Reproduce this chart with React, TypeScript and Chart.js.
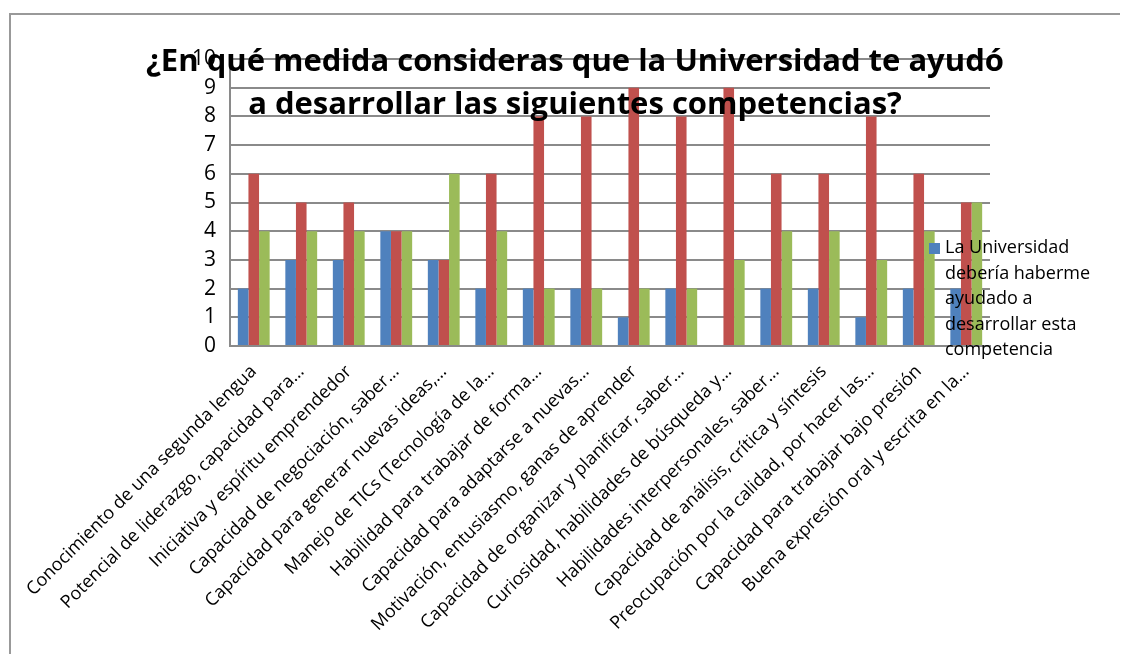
import React, { useEffect, useRef } from "react";
import { Chart, registerables } from "chart.js";

Chart.register(...registerables);

const categories: string[] = [
  "Conocimiento de una segunda lengua",
  "Potencial de liderazgo, capacidad para…",
  "Iniciativa y espíritu emprendedor",
  "Capacidad de negociación, saber…",
  "Capacidad para generar nuevas ideas,…",
  "Manejo de TICs (Tecnología de la…",
  "Habilidad para trabajar de forma…",
  "Capacidad para adaptarse a nuevas…",
  "Motivación, entusiasmo, ganas de aprender",
  "Capacidad de organizar y planificar, saber…",
  "Curiosidad, habilidades de búsqueda y…",
  "Habilidades interpersonales, saber…",
  "Capacidad de análisis, crítica y síntesis",
  "Preocupación por la calidad, por hacer las…",
  "Capacidad para trabajar bajo presión",
  "Buena expresión oral y escrita en la…",
];

const seriesBlue: number[] = [2, 3, 3, 4, 3, 2, 2, 2, 1, 2, 0, 2, 2, 1, 2, 2];
const seriesRed: number[] = [6, 5, 5, 4, 3, 6, 8, 8, 9, 8, 9, 6, 6, 8, 6, 5];
const seriesGreen: number[] = [4, 4, 4, 4, 6, 4, 2, 2, 2, 2, 3, 4, 4, 3, 4, 5];

const titleLines: string[] = [
  "¿En qué medida consideras que la Universidad te ayudó",
  "a desarrollar las siguientes competencias?",
];

const legendLines: string[] = [
  "La Universidad",
  "debería haberme",
  "ayudado a",
  "desarrollar esta",
  "competencia",
];

const BLUE = "#4F81BD";
const RED = "#C0504D";
const GREEN = "#9BBB59";
const GRID = "#8a8a8a";

const overlayPlugin = {
  id: "overlay",
  beforeDraw(chart: any) {
    const ctx = chart.ctx;
    ctx.save();
    ctx.strokeStyle = "#999999";
    ctx.lineWidth = 2;
    ctx.beginPath();
    ctx.moveTo(10, 662);
    ctx.lineTo(10, 14);
    ctx.lineTo(1128, 14);
    ctx.stroke();
    ctx.restore();
  },
  afterDraw(chart: any) {
    const ctx = chart.ctx;
    ctx.save();
    ctx.fillStyle = "#000";
    ctx.font = 'bold 31px "Open Sans"';
    ctx.textAlign = "center";
    ctx.textBaseline = "alphabetic";
    ctx.fillText(titleLines[0], 575, 71);
    ctx.fillText(titleLines[1], 575, 114);
    ctx.fillStyle = BLUE;
    ctx.fillRect(929, 243, 11, 11);
    ctx.fillStyle = "#000";
    ctx.font = '18px "Open Sans"';
    ctx.textAlign = "left";
    ctx.textBaseline = "middle";
    legendLines.forEach((l, i) => {
      ctx.fillText(l, 945, 248 + i * 25.5);
    });
    ctx.restore();
  },
};

export default function App() {
  const ref = useRef<HTMLCanvasElement | null>(null);
  useEffect(() => {
    if (!ref.current) return;
    const chart = new Chart(ref.current, {
      type: "bar",
      data: {
        labels: categories,
        datasets: [
          { label: "La Universidad debería haberme ayudado a desarrollar esta competencia", data: seriesBlue, backgroundColor: BLUE },
          { label: "Serie 2", data: seriesRed, backgroundColor: RED },
          { label: "Serie 3", data: seriesGreen, backgroundColor: GREEN },
        ],
      },
      options: {
        responsive: false,
        animation: false,
        layout: { padding: { top: 59, right: 138, left: 0, bottom: 0 } },
        plugins: {
          legend: { display: false },
          title: { display: false },
          tooltip: { enabled: false },
        },
        datasets: { bar: { barPercentage: 1, categoryPercentage: 0.67 } },
        scales: {
          x: {
            grid: { display: false, drawTicks: false },
            border: { display: true, color: GRID, width: 2 },
            ticks: {
              autoSkip: false,
              maxRotation: 45,
              minRotation: 45,
              color: "#000",
              padding: 15,
              font: { family: '"Open Sans"', size: 18 },
            },
            afterFit(scale: any) {
              scale.height = 316;
            },
          },
          y: {
            min: 0,
            max: 10,
            ticks: {
              stepSize: 1,
              color: "#000",
              padding: 14,
              font: { family: '"Open Sans"', size: 21 },
            },
            grid: { color: GRID, lineWidth: 2, drawTicks: false },
            border: { display: true, color: GRID, width: 2 },
            afterFit(scale: any) {
              scale.width = 230;
            },
          },
        },
      },
      plugins: [overlayPlugin],
    } as any);
    return () => chart.destroy();
  }, []);
  return (
    <div style={{ margin: -8, width: 1128, height: 662, position: "relative" }}>
      <canvas ref={ref} width={1128} height={662} style={{ display: "block" }} />
    </div>
  );
}
